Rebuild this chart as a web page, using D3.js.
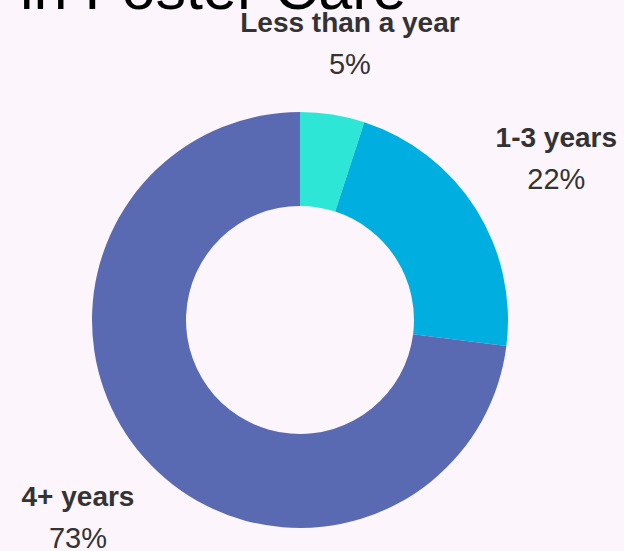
<!DOCTYPE html>
<html>
<head>
<meta charset="utf-8">
<script src="https://cdn.jsdelivr.net/npm/d3@7"></script>
<style>
  html, body { margin: 0; padding: 0; background: #fcf5fc; }
  svg { display: block; }
</style>
</head>
<body>
<svg id="chart" width="624" height="551"></svg>
<script>
const categories = ["Less than a year", "1-3 years", "4+ years"];
const values = [5, 22, 73];
const valueLabels = ["5%", "22%", "73%"];
const colors = ["#2ee6d6", "#00afdf", "#5a6ab2"];
const titleText = "in Foster Care";

const width = 624, height = 551;
const cx = 300, cy = 320;
const outerR = 208, innerR = 114, labelR = 300;

const svg = d3.select("#chart");
svg.append("rect").attr("width", width).attr("height", height).attr("fill", "#fcf5fc");

svg.append("text")
  .attr("x", 20).attr("y", 9)
  .attr("font-family", "Liberation Sans, Arial, sans-serif")
  .attr("font-size", 61)
  .attr("fill", "#000")
  .text(titleText);

const data = categories.map((c, i) => ({ cat: c, value: values[i], label: valueLabels[i], color: colors[i] }));

const pie = d3.pie().value(d => d.value).sort(null);
const arcs = pie(data);
const arc = d3.arc().innerRadius(innerR).outerRadius(outerR);
const labelArc = d3.arc().innerRadius(labelR).outerRadius(labelR);

const g = svg.append("g").attr("transform", `translate(${cx},${cy})`);
g.selectAll("path").data(arcs).enter().append("path")
  .attr("d", arc)
  .attr("fill", d => d.data.color);

const lg = g.selectAll("g.lab").data(arcs).enter().append("g").attr("class", "lab")
  .attr("transform", d => {
    const [x, y] = labelArc.centroid(d);
    const yc = Math.max(-cy + 44, y);
    return `translate(${x + 3},${yc})`;
  });
lg.append("text")
  .attr("text-anchor", "middle")
  .attr("y", -12)
  .attr("font-family", "Liberation Sans, Arial, sans-serif")
  .attr("font-weight", "bold")
  .attr("font-size", 28)
  .attr("fill", "#333333")
  .text(d => d.data.cat);
lg.append("text")
  .attr("text-anchor", "middle")
  .attr("y", 30)
  .attr("font-family", "Liberation Sans, Arial, sans-serif")
  .attr("font-size", 29)
  .attr("fill", "#333333")
  .text(d => d.data.label);
</script>
</body>
</html>
